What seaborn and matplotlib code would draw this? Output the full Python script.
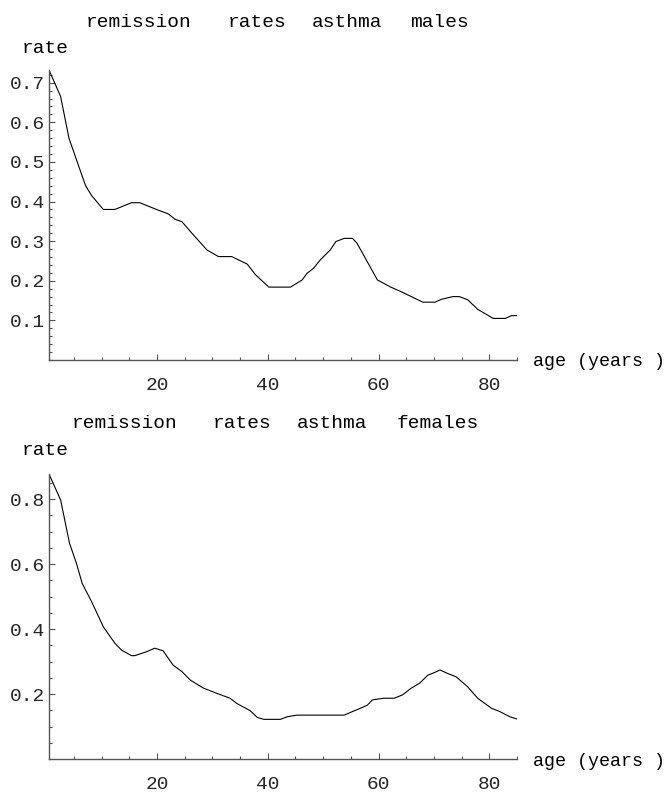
import matplotlib
matplotlib.use("Agg")
import matplotlib.pyplot as plt
import seaborn as sns
import pandas as pd
from matplotlib.ticker import MultipleLocator

# values
male_age = [0.5, 2.6, 4.1, 5.6, 7.1, 8.2, 10.3, 12.4, 15.4, 16.9,
            19.9, 22.0, 23.3, 24.5, 26.3, 29.0, 31.1, 33.5, 36.3, 37.8,
            40.2, 44.1, 46.2, 47.1, 48.3, 49.5, 51.3, 52.3, 53.8, 55.3,
            56.1, 59.8, 62.2, 64.3, 68.0, 70.2, 71.3, 73.4, 74.6, 76.1,
            77.9, 80.7, 82.9, 84.0, 85.0]
male_rate = [0.732, 0.665, 0.560, 0.500, 0.440, 0.415, 0.380, 0.380, 0.397, 0.397,
             0.380, 0.369, 0.355, 0.349, 0.320, 0.278, 0.261, 0.261, 0.242, 0.215,
             0.184, 0.184, 0.202, 0.219, 0.232, 0.253, 0.278, 0.299, 0.307, 0.307,
             0.295, 0.202, 0.184, 0.171, 0.146, 0.146, 0.153, 0.160, 0.160, 0.152,
             0.128, 0.105, 0.105, 0.112, 0.112]

female_age = [0.5, 2.6, 4.2, 5.4, 6.5, 8.2, 10.3, 12.4, 13.6, 15.4,
              16.0, 18.1, 19.6, 21.1, 22.9, 24.5, 26.0, 28.4, 30.8, 33.2,
              34.4, 36.8, 38.1, 39.3, 42.3, 43.5, 45.3, 53.8, 55.3, 57.1,
              58.0, 58.9, 61.0, 62.8, 64.3, 65.9, 67.4, 68.9, 70.1, 71.1,
              72.5, 74.0, 76.1, 77.9, 80.4, 81.9, 83.7, 85.0]
female_rate = [0.877, 0.797, 0.664, 0.605, 0.540, 0.484, 0.407, 0.356, 0.335, 0.318,
               0.318, 0.330, 0.341, 0.333, 0.289, 0.269, 0.243, 0.218, 0.202, 0.187,
               0.171, 0.149, 0.128, 0.122, 0.122, 0.130, 0.135, 0.135, 0.146, 0.159,
               0.166, 0.182, 0.187, 0.187, 0.197, 0.218, 0.233, 0.258, 0.266, 0.274,
               0.263, 0.253, 0.222, 0.187, 0.156, 0.146, 0.130, 0.123]

male_yticks = [0.1, 0.2, 0.3, 0.4, 0.5, 0.6, 0.7]
female_yticks = [0.2, 0.4, 0.6, 0.8]
xticks = [20, 40, 60, 80]

male_title = ["remission", "rates", "asthma", "males"]
female_title = ["remission", "rates", "asthma", "females"]

W, H = 670, 796
sns.set_style("ticks")
plt.rcParams['font.family'] = ['Liberation Mono', 'DejaVu Sans']
fs = 14

fig = plt.figure(figsize=(W / 100, H / 100), dpi=100)


def rect(l, t, r, b):
    return [l / W, 1 - b / H, (r - l) / W, (b - t) / H]


def ftext(x, y, s, size=fs, **kw):
    fig.text(x / W, 1 - y / H, s, fontsize=size, color="black", **kw)


def panel(box, age, rate, ytop, yticks, yminor, title, title_x, title_y, rate_y):
    ax = fig.add_axes(rect(*box))
    df = pd.DataFrame({"age": age, "rate": rate})
    sns.lineplot(data=df, x="age", y="rate", ax=ax, color="black", linewidth=0.8)
    ax.set_xlim(0.5, 85)
    ax.set_ylim(0, ytop)
    ax.set_xticks(xticks)
    ax.set_xticklabels([str(v) for v in xticks])
    ax.set_yticks(yticks)
    ax.set_yticklabels([f"{v:.1f}" for v in yticks])
    ax.xaxis.set_minor_locator(MultipleLocator(5))
    ax.yaxis.set_minor_locator(MultipleLocator(yminor))
    ax.set_xlabel("")
    ax.set_ylabel("")
    for s in ["top", "right"]:
        ax.spines[s].set_visible(False)
    for s in ["left", "bottom"]:
        ax.spines[s].set_color("#555555")
        ax.spines[s].set_linewidth(1.0)
    ax.tick_params(which="both", direction="in", color="#555555", width=0.8,
                   labelsize=fs)
    ax.tick_params(which="major", length=4)
    ax.tick_params(which="minor", length=2.5)
    ax.tick_params(axis="x", which="major", pad=12)
    ax.tick_params(axis="y", which="major", pad=3)
    ax.set_facecolor("white")
    for word, x in zip(title, title_x):
        ftext(x, title_y, word, ha="left", va="baseline")
    ftext(22, rate_y, "rate", ha="left", va="baseline")
    ftext(533, box[3] + 2, "age (years )", size=13.2, ha="left", va="center")
    return ax


panel((49, 70, 517, 360), male_age, male_rate, 0.732, male_yticks, 0.02,
      male_title, [86, 228, 312, 410], 27, 53)
panel((49, 474, 517, 759), female_age, female_rate, 0.877, female_yticks, 0.05,
      female_title, [72, 213, 297, 397], 428, 455)

fig.savefig("out.png", dpi=100, facecolor="white")
